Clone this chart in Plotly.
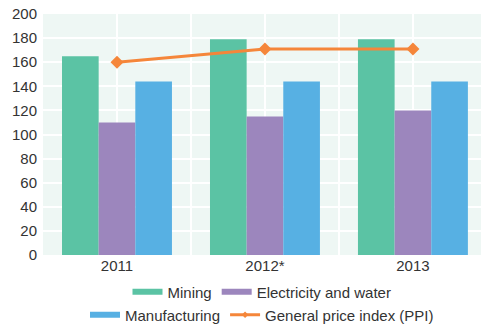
import plotly.graph_objects as go

categories = ["2011", "2012*", "2013"]
mining = [165, 179, 179]
electricity = [110, 115, 120]
manufacturing = [144, 144, 144]
ppi = [160, 171, 171]
y_ticks = [0, 20, 40, 60, 80, 100, 120, 140, 160, 180, 200]

x_pos = list(range(len(categories)))

GREEN = "#5bc3a4"
PURPLE = "#9c86bd"
BLUE = "#57b0e3"
ORANGE = "#f5863a"
FONT = "Liberation Sans"
TXT = "#333333"

fig = go.Figure()
for name, vals, col in [("Mining", mining, GREEN),
                        ("Electricity and water", electricity, PURPLE),
                        ("Manufacturing", manufacturing, BLUE)]:
    fig.add_trace(go.Bar(x=x_pos, y=vals, name=name, marker_color=col,
                         marker_line_width=0, showlegend=False))

fig.add_trace(go.Scatter(x=x_pos, y=ppi, mode="lines+markers", name="General price index (PPI)",
                         line=dict(color=ORANGE, width=3),
                         marker=dict(symbol="diamond", size=10, color=ORANGE),
                         showlegend=False))

# legend entries (two centred rows)
fig.add_trace(go.Scatter(x=[None], y=[None], mode="lines", name="Mining",
                         line=dict(color=GREEN, width=6), legend="legend"))
fig.add_trace(go.Scatter(x=[None], y=[None], mode="lines", name="Electricity and water",
                         line=dict(color=PURPLE, width=6), legend="legend"))
fig.add_trace(go.Scatter(x=[None], y=[None], mode="lines", name="Manufacturing",
                         line=dict(color=BLUE, width=6), legend="legend2"))
fig.add_trace(go.Scatter(x=[None], y=[None], mode="lines+markers", name="General price index (PPI)",
                         line=dict(color=ORANGE, width=3),
                         marker=dict(symbol="diamond", size=5, color=ORANGE), legend="legend2"))

tickvals = []
ticktext = []
for i, c in enumerate(categories):
    tickvals.append(i)
    ticktext.append(c)
    tickvals.append(i + 0.5)
    ticktext.append("")

W, H = 481, 324

legend_common = dict(orientation="h", xanchor="center", x=0.5, yanchor="middle",
                     yref="container",
                     font=dict(family=FONT, size=15, color=TXT), bgcolor="rgba(0,0,0,0)",
                     itemwidth=30)

fig.update_layout(
    width=W, height=H,
    margin=dict(l=43, r=0, t=14, b=69, autoexpand=False),
    paper_bgcolor="white",
    plot_bgcolor="#eef7f4",
    barmode="group", bargap=0.257, bargroupgap=0,
    font=dict(family=FONT, size=15, color=TXT),
    xaxis=dict(range=[-0.5, 2.46], tickvals=tickvals, ticktext=ticktext,
               showgrid=True, gridcolor="white", gridwidth=1.5, zeroline=False,
               ticks="", tickfont=dict(size=15, color=TXT), automargin=False),
    yaxis=dict(range=[0, 200], tickvals=y_ticks, showgrid=True, gridcolor="white",
               gridwidth=1.5, zeroline=False, ticks="", ticklabelstandoff=5,
               tickfont=dict(size=15, color=TXT), automargin=False),
    legend=dict(y=1 - 292 / H, **legend_common),
    legend2=dict(y=1 - 315 / H, **legend_common),
)

fig.write_html("out.html", config={"displayModeBar": False},
               post_script="document.body.style.margin='0px';document.body.style.padding='0px';")
